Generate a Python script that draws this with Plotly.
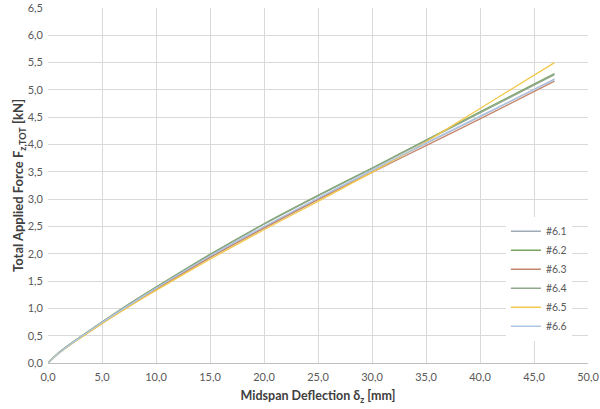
import plotly.graph_objects as go

# Load-deflection readings (mm, kN) per specimen
deflection = [0.0, 1.0, 2.5, 5.0, 7.5, 10.0, 15.0, 20.0, 25.0, 30.0, 35.0, 40.0, 46.9]

force_6_1 = [0.0, 0.18, 0.40, 0.73, 1.06, 1.37, 1.95, 2.49, 3.01, 3.52, 4.02, 4.51, 5.20]
force_6_2 = [0.0, 0.19, 0.41, 0.75, 1.08, 1.39, 1.99, 2.55, 3.07, 3.57, 4.08, 4.60, 5.30]
force_6_3 = [0.0, 0.18, 0.40, 0.73, 1.05, 1.35, 1.93, 2.47, 2.99, 3.49, 3.98, 4.47, 5.16]
force_6_4 = [0.0, 0.19, 0.41, 0.75, 1.08, 1.38, 1.98, 2.54, 3.06, 3.56, 4.07, 4.58, 5.28]
force_6_5 = [0.0, 0.18, 0.39, 0.72, 1.03, 1.33, 1.90, 2.44, 2.96, 3.49, 4.05, 4.66, 5.50]
force_6_6 = [0.0, 0.18, 0.40, 0.74, 1.06, 1.37, 1.96, 2.50, 3.02, 3.53, 4.03, 4.52, 5.19]

names = ["#6.1", "#6.2", "#6.3", "#6.4", "#6.5", "#6.6"]
forces = [force_6_1, force_6_2, force_6_3, force_6_4, force_6_5, force_6_6]
colors = ['#9FAAB8', '#77A35F', '#C4866A', '#8FA88C', '#F2C94C', '#AFC6E6']

fig = go.Figure()

for name, y, c in zip(names, forces, colors):
    fig.add_trace(go.Scatter(
        x=deflection, y=y, name=name,
        mode='lines', line=dict(color=c, width=1.3, shape='spline', smoothing=0.6)
    ))

font = "Lato, 'Open Sans', sans-serif"

fig.update_layout(
    width=600, height=409,
    margin=dict(l=48, r=12, t=8, b=46),
    plot_bgcolor='white',
    paper_bgcolor='white',
    separators=', ',
    font=dict(family=font, size=11, color='#595959'),
    xaxis=dict(
        range=[0, 50], dtick=5, tickformat='.1f',
        showgrid=True, gridcolor='#D9D9D9', gridwidth=1,
        zeroline=False, showline=True, linecolor='#BFBFBF',
        ticks='', automargin=False, ticklabelstandoff=4,
        ticklabeloverflow='allow',
        title=dict(text='Midspan Deflection δ<sub>z</sub> [mm]', standoff=9,
                   font=dict(family=font, size=12.5, color='#404040', weight='bold'))
    ),
    yaxis=dict(
        range=[0, 6.5], dtick=0.5, tickformat='.1f',
        showgrid=True, gridcolor='#D9D9D9', gridwidth=1,
        zeroline=False, ticks='', automargin=False, ticklabelstandoff=4,
        ticklabeloverflow='allow',
        title=dict(text='Total Applied Force F<sub>z,TOT</sub> [kN]', standoff=0,
                   font=dict(family=font, size=13, color='#404040', weight='bold'))
    ),
    legend=dict(
        x=0.848, xanchor='left', y=0.412, yanchor='top',
        bgcolor='white', borderwidth=0,
        font=dict(family=font, size=10.5, color='#595959'),
        itemwidth=30, tracegroupgap=0
    ),
    showlegend=True
)

fig.write_html("out.html", config={'displayModeBar': False},
               post_script="document.body.style.margin='0';")
